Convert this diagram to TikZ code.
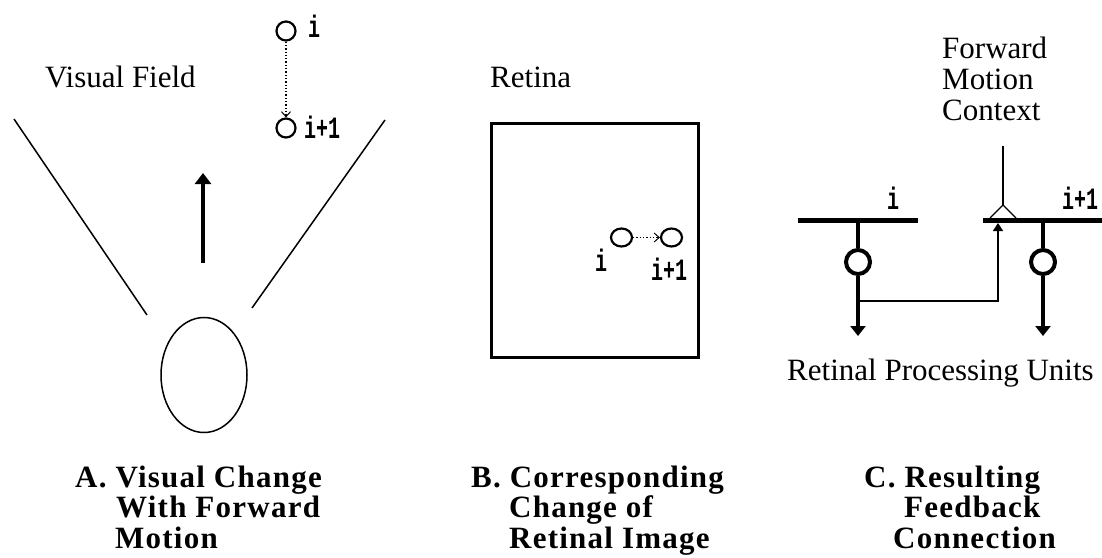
\documentclass[tikz,border=0pt]{standalone}
\usepackage{graphicx}
\usepackage{fontspec}
\setmainfont{Liberation Serif}
\newfontfamily\monof{Liberation Mono}
\newfontfamily\labf[LetterSpace=4]{Liberation Serif}
\usetikzlibrary{arrows.meta,shapes.geometric}
\tikzset{
  txt/.style={font=\fontsize{31}{31}\selectfont, inner sep=0pt, anchor=base west},
  lab/.style={font=\labf\bfseries\fontsize{31}{31}\selectfont, inner sep=0pt, anchor=base west},
  sml/.style={font=\monof\bfseries\fontsize{20}{20}\selectfont, inner sep=0pt},
  ring/.style={circle, draw, line width=2.2pt, minimum size=19pt, inner sep=0pt},
  bring/.style={ellipse, draw, line width=2.2pt, minimum width=21pt, minimum height=18pt, inner sep=0pt},
  unit/.style={circle, draw, line width=4pt, minimum size=24pt, inner sep=0pt},
  dotarrow/.style={dotted, line width=1.3pt, -{Straight Barb[length=5pt,width=9pt,line width=1pt]}},
  fieldline/.style={line width=1.5pt},
  bar/.style={line width=5pt},
  stem/.style={line width=4pt},
  stemarrow/.style={line width=4pt, -{Triangle[width=15pt,length=10pt]}},
  feedback/.style={line width=1.5pt, -{Triangle[width=10pt,length=8pt]}},
}
\newcommand{\tall}[1]{\scalebox{1}[1.55]{#1}}
\begin{document}
\begin{tikzpicture}[x=1pt,y=-1pt]
\path[use as bounding box] (0,0) rectangle (1102,557);

% ---------- Panel A ----------
\node[txt] (vf) at (45,87) {Visual Field};
\node[ring] (ai) at (286,31) {};
\node[sml, anchor=west] (ailab) at (308,26) {\tall{i}};
\node[ring] (aj) at (286,128) {};
\node[sml, anchor=west] (ajlab) at (304,127) {\tall{i+1}};
\draw[dotarrow] (ai) -- (aj);
\coordinate (vl1) at (14,119);
\coordinate (vl2) at (147,315);
\coordinate (vr1) at (252,308);
\coordinate (vr2) at (385,120);
\draw[fieldline] (vl1) -- (vl2);
\draw[fieldline] (vr1) -- (vr2);
\coordinate (ab) at (203,263);
\coordinate (at) at (203,173);
\draw[line width=4pt, -{Triangle[width=16pt,length=11pt]}] (ab) -- (at);
\node[ellipse, draw, line width=1.5pt, minimum width=86pt, minimum height=115pt, inner sep=0pt] (eye) at (204,375) {};

% ---------- Panel B ----------
\node[txt] (ret) at (490,87) {Retina};
\node[draw, line width=2.5pt, minimum width=207pt, minimum height=234pt, inner sep=0pt] (box) at (595,240.5) {};
\node[bring] (bi) at (621.5,237.5) {};
\node[bring] (bj) at (671.5,237.5) {};
\draw[dotarrow] (bi) -- (bj);
\node[sml] (bilab) at (601,260) {\tall{i}};
\node[sml] (bjlab) at (669,269) {\tall{i+1}};

% ---------- Panel C ----------
\node[txt] (fw1) at (942,58) {Forward};
\node[txt] (fw2) at (942,89) {Motion};
\node[txt] (fw3) at (942,120) {Context};
\coordinate (ctop) at (1003,146);
\coordinate (apex) at (1003,205);
\coordinate (tl) at (990,218);
\coordinate (tr) at (1016,218);
\draw[line width=1.2pt] (ctop) -- (apex);
\draw[line width=1.2pt] (tl) -- (apex) -- (tr);
\coordinate (b1l) at (798,220.5);
\coordinate (b1r) at (918,220.5);
\coordinate (b2l) at (983,220.5);
\coordinate (b2r) at (1102,220.5);
\draw[bar] (b1l) -- (b1r);
\draw[bar] (b2l) -- (b2r);
\node[sml] (cilab) at (893,198) {\tall{i}};
\node[sml] (cjlab) at (1080,198) {\tall{i+1}};
\node[unit] (u1) at (858,262) {};
\node[unit] (u2) at (1043,262) {};
\coordinate (s1t) at (858,220.5);
\coordinate (s2t) at (1043,220.5);
\coordinate (s1b) at (858,336);
\coordinate (s2b) at (1043,336);
\draw[stem] (s1t) -- (u1);
\draw[stem] (s2t) -- (u2);
\draw[stemarrow] (u1) -- (s1b);
\draw[stemarrow] (u2) -- (s2b);
\coordinate (fb1) at (858,301);
\coordinate (fb2) at (998,301);
\coordinate (fb3) at (998,223);
\draw[feedback] (fb1) -- (fb2) -- (fb3);
\node[txt] (rpu) at (787,380) {Retinal Processing Units};

% ---------- Captions ----------
\node[lab] (a1) at (75,487) {A. Visual Change};
\node[lab] (a2) at (116,517) {With Forward};
\node[lab] (a3) at (115,548) {Motion};
\node[lab] (b1) at (471,487) {B. Corresponding};
\node[lab] (b2) at (509,517) {Change of};
\node[lab] (b3) at (509,548) {Retinal Image};
\node[lab] (c1) at (864,487) {C. Resulting};
\node[lab] (c2) at (904,517) {Feedback};
\node[lab] (c3) at (893,548) {Connection};
\end{tikzpicture}
\end{document}
